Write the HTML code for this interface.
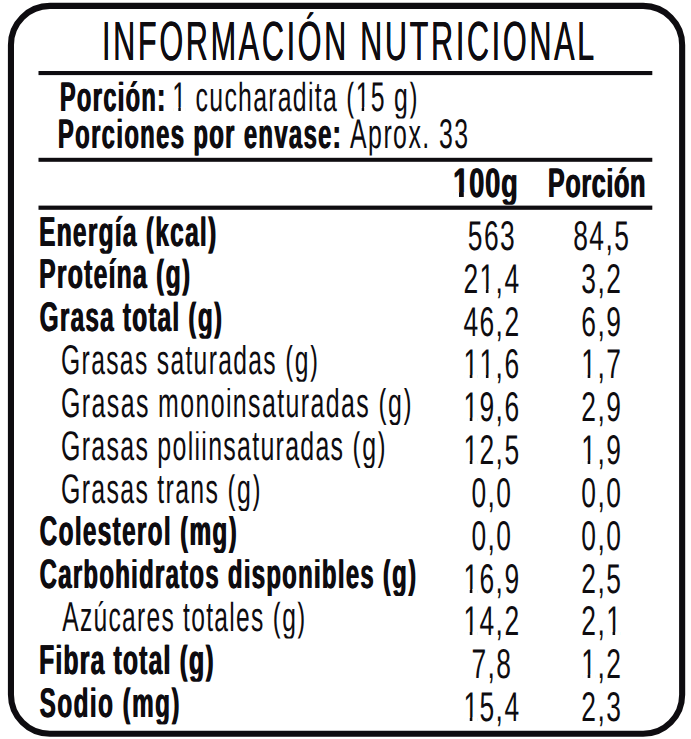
<!DOCTYPE html>
<html><head><meta charset="utf-8"><style>
html,body{margin:0;padding:0;background:#fff;width:691px;height:739px;overflow:hidden}
svg{display:block}
text{font-family:"Liberation Sans",sans-serif;fill:#0e0c10;text-rendering:geometricPrecision;font-kerning:none}
</style></head><body>
<svg width="691" height="739" viewBox="0 0 691 739">
<defs><clipPath id="c_p1b"><rect x="0" y="81.78" width="691" height="36.72"/><rect x="124.29" y="80.98" width="18.59" height="10"/></clipPath><clipPath id="c_p1r"><rect x="0" y="81.78" width="691" height="36.72"/></clipPath><clipPath id="c_p2b"><rect x="0" y="118.78" width="691" height="36.72"/></clipPath><clipPath id="c_p2r"><rect x="0" y="118.78" width="691" height="36.72"/></clipPath><clipPath id="c_h1"><rect x="0" y="167.99" width="691" height="36.51"/></clipPath><clipPath id="c_h2"><rect x="0" y="167.99" width="691" height="36.51"/><rect x="612.60" y="167.19" width="18.81" height="10"/></clipPath><clipPath id="c_r0"><rect x="0" y="216.61" width="691" height="36.79"/><rect x="113.46" y="215.81" width="10.88" height="10"/></clipPath><clipPath id="c_r1"><rect x="0" y="258.81" width="691" height="36.79"/><rect x="107.13" y="258.01" width="10.93" height="10"/></clipPath><clipPath id="c_r2"><rect x="0" y="301.71" width="691" height="36.79"/></clipPath><clipPath id="c_r3"><rect x="0" y="344.91" width="691" height="36.79"/></clipPath><clipPath id="c_r4"><rect x="0" y="388.11" width="691" height="36.79"/></clipPath><clipPath id="c_r5"><rect x="0" y="431.21" width="691" height="36.79"/></clipPath><clipPath id="c_r6"><rect x="0" y="474.31" width="691" height="36.79"/></clipPath><clipPath id="c_r7"><rect x="0" y="516.11" width="691" height="36.79"/></clipPath><clipPath id="c_r8"><rect x="0" y="559.21" width="691" height="36.79"/></clipPath><clipPath id="c_r9"><rect x="0" y="601.81" width="691" height="36.79"/><rect x="92.48" y="601.01" width="16.97" height="10"/></clipPath><clipPath id="c_r10"><rect x="0" y="644.81" width="691" height="36.79"/></clipPath><clipPath id="c_r11"><rect x="0" y="687.51" width="691" height="36.79"/></clipPath></defs>
<rect x="10.95" y="5.9" width="671.2" height="727.9" rx="39" ry="39" fill="none" stroke="#0e0c10" stroke-width="6.1"/>
<g fill="#0e0c10">
<rect x="38.5" y="71.0" width="613.8" height="4.1"/>
<rect x="38.5" y="157.8" width="613.8" height="4.0"/>
<rect x="38.5" y="205.6" width="613.8" height="4.2"/>
</g>
<g id="title"><text transform="translate(101.89 60.00) scale(0.5554 1)" font-weight="normal" font-size="55.20" text-anchor="start" letter-spacing="4.748">INFORMACIÓN NUTRICIONAL</text><text transform="translate(102.09 60.00) scale(0.5554 1)" font-weight="normal" font-size="55.20" text-anchor="start" letter-spacing="4.748">INFORMACIÓN NUTRICIONAL</text></g>
<g id="p1b" clip-path="url(#c_p1b)"><text transform="translate(59.45 110.70) scale(0.5680 1)" font-weight="bold" font-size="41.60" text-anchor="start" letter-spacing="2.377">Porción:</text><text transform="translate(60.25 110.70) scale(0.5680 1)" font-weight="bold" font-size="41.60" text-anchor="start" letter-spacing="2.377">Porción:</text></g>
<g id="p1r" clip-path="url(#c_p1r)"><text transform="translate(172.34 110.70) scale(0.5966 1)" font-weight="normal" font-size="41.60" text-anchor="start" letter-spacing="2.151">1 cucharadita (15 g)</text><g fill="#fff"><rect transform="translate(172.34 110.70) scale(0.5966 1)" x="1.66" y="-3.56" width="8.38" height="4.36"/><rect transform="translate(172.34 110.70) scale(0.5966 1)" x="14.14" y="-3.56" width="8.48" height="4.36"/><rect transform="translate(172.34 110.70) scale(0.5966 1)" x="309.05" y="-3.56" width="8.38" height="4.36"/><rect transform="translate(172.34 110.70) scale(0.5966 1)" x="321.53" y="-3.56" width="8.48" height="4.36"/></g></g>
<g id="p2b" clip-path="url(#c_p2b)"><text transform="translate(57.50 147.70) scale(0.5728 1)" font-weight="bold" font-size="41.60" text-anchor="start" letter-spacing="2.379">Porciones por envase:</text><text transform="translate(58.30 147.70) scale(0.5728 1)" font-weight="bold" font-size="41.60" text-anchor="start" letter-spacing="2.379">Porciones por envase:</text></g>
<g id="p2r" clip-path="url(#c_p2r)"><text transform="translate(350.07 147.70) scale(0.5980 1)" font-weight="normal" font-size="41.60" text-anchor="start" letter-spacing="2.418">Aprox. 33</text></g>
<g id="h1" clip-path="url(#c_h1)"><text transform="translate(452.87 196.70) scale(0.6609 1)" font-weight="bold" font-size="41.30" text-anchor="start" letter-spacing="1.145">100g</text><text transform="translate(453.67 196.70) scale(0.6609 1)" font-weight="bold" font-size="41.30" text-anchor="start" letter-spacing="1.145">100g</text><g fill="#fff"><rect transform="translate(452.87 196.70) scale(0.6609 1)" x="1.24" y="-4.66" width="8.02" height="5.46"/><rect transform="translate(452.87 196.70) scale(0.6609 1)" x="16.52" y="-4.66" width="7.88" height="5.46"/></g></g>
<g id="h2" clip-path="url(#c_h2)"><text transform="translate(547.48 196.70) scale(0.6101 1)" font-weight="bold" font-size="41.30" text-anchor="start" letter-spacing="1.022">Porción</text><text transform="translate(548.28 196.70) scale(0.6101 1)" font-weight="bold" font-size="41.30" text-anchor="start" letter-spacing="1.022">Porción</text></g>
<g id="r0" clip-path="url(#c_r0)"><text transform="translate(38.75 245.60) scale(0.5870 1)" font-weight="bold" font-size="41.70" text-anchor="start" letter-spacing="2.166">Energía (kcal)</text><text transform="translate(39.55 245.60) scale(0.5870 1)" font-weight="bold" font-size="41.70" text-anchor="start" letter-spacing="2.166">Energía (kcal)</text></g>
<g id="a0"><text transform="translate(491.95 250.00) scale(0.6350 1)" font-weight="normal" font-size="41.60" text-anchor="middle" letter-spacing="2.260">563</text></g>
<g id="b0"><text transform="translate(601.80 250.00) scale(0.6350 1)" font-weight="normal" font-size="41.60" text-anchor="middle" letter-spacing="2.260">84,5</text></g>
<g id="r1" clip-path="url(#c_r1)"><text transform="translate(38.75 287.80) scale(0.5924 1)" font-weight="bold" font-size="41.70" text-anchor="start" letter-spacing="2.112">Proteína (g)</text><text transform="translate(39.55 287.80) scale(0.5924 1)" font-weight="bold" font-size="41.70" text-anchor="start" letter-spacing="2.112">Proteína (g)</text></g>
<g id="a1"><text transform="translate(491.95 292.82) scale(0.6350 1)" font-weight="normal" font-size="41.60" text-anchor="middle" letter-spacing="2.260">21,4</text><g fill="#fff"><rect transform="translate(491.95 292.82) scale(0.6350 1)" x="-17.86" y="-3.56" width="8.32" height="4.36"/><rect transform="translate(491.95 292.82) scale(0.6350 1)" x="-5.47" y="-3.56" width="8.38" height="4.36"/></g></g>
<g id="b1"><text transform="translate(601.80 292.82) scale(0.6350 1)" font-weight="normal" font-size="41.60" text-anchor="middle" letter-spacing="2.260">3,2</text></g>
<g id="r2" clip-path="url(#c_r2)"><text transform="translate(39.31 330.70) scale(0.5838 1)" font-weight="bold" font-size="41.70" text-anchor="start" letter-spacing="2.116">Grasa total (g)</text><text transform="translate(40.11 330.70) scale(0.5838 1)" font-weight="bold" font-size="41.70" text-anchor="start" letter-spacing="2.116">Grasa total (g)</text></g>
<g id="a2"><text transform="translate(491.95 335.64) scale(0.6350 1)" font-weight="normal" font-size="41.60" text-anchor="middle" letter-spacing="2.260">46,2</text></g>
<g id="b2"><text transform="translate(601.80 335.64) scale(0.6350 1)" font-weight="normal" font-size="41.60" text-anchor="middle" letter-spacing="2.260">6,9</text></g>
<g id="r3" clip-path="url(#c_r3)"><text transform="translate(61.09 373.90) scale(0.5906 1)" font-weight="normal" font-size="41.70" text-anchor="start" letter-spacing="2.284">Grasas saturadas (g)</text></g>
<g id="a3"><text transform="translate(491.95 378.46) scale(0.6350 1)" font-weight="normal" font-size="41.60" text-anchor="middle" letter-spacing="2.260">11,6</text><g fill="#fff"><rect transform="translate(491.95 378.46) scale(0.6350 1)" x="-43.25" y="-3.56" width="8.32" height="4.36"/><rect transform="translate(491.95 378.46) scale(0.6350 1)" x="-30.86" y="-3.56" width="8.38" height="4.36"/><rect transform="translate(491.95 378.46) scale(0.6350 1)" x="-17.86" y="-3.56" width="8.32" height="4.36"/><rect transform="translate(491.95 378.46) scale(0.6350 1)" x="-5.47" y="-3.56" width="8.38" height="4.36"/></g></g>
<g id="b3"><text transform="translate(601.80 378.46) scale(0.6350 1)" font-weight="normal" font-size="41.60" text-anchor="middle" letter-spacing="2.260">1,7</text><g fill="#fff"><rect transform="translate(601.80 378.46) scale(0.6350 1)" x="-30.55" y="-3.56" width="8.32" height="4.36"/><rect transform="translate(601.80 378.46) scale(0.6350 1)" x="-18.17" y="-3.56" width="8.38" height="4.36"/></g></g>
<g id="r4" clip-path="url(#c_r4)"><text transform="translate(61.07 417.10) scale(0.5973 1)" font-weight="normal" font-size="41.70" text-anchor="start" letter-spacing="2.344">Grasas monoinsaturadas (g)</text></g>
<g id="a4"><text transform="translate(491.95 421.28) scale(0.6350 1)" font-weight="normal" font-size="41.60" text-anchor="middle" letter-spacing="2.260">19,6</text><g fill="#fff"><rect transform="translate(491.95 421.28) scale(0.6350 1)" x="-43.25" y="-3.56" width="8.32" height="4.36"/><rect transform="translate(491.95 421.28) scale(0.6350 1)" x="-30.86" y="-3.56" width="8.38" height="4.36"/></g></g>
<g id="b4"><text transform="translate(601.80 421.28) scale(0.6350 1)" font-weight="normal" font-size="41.60" text-anchor="middle" letter-spacing="2.260">2,9</text></g>
<g id="r5" clip-path="url(#c_r5)"><text transform="translate(61.06 460.20) scale(0.5979 1)" font-weight="normal" font-size="41.70" text-anchor="start" letter-spacing="2.158">Grasas poliinsaturadas (g)</text></g>
<g id="a5"><text transform="translate(491.95 464.10) scale(0.6350 1)" font-weight="normal" font-size="41.60" text-anchor="middle" letter-spacing="2.260">12,5</text><g fill="#fff"><rect transform="translate(491.95 464.10) scale(0.6350 1)" x="-43.25" y="-3.56" width="8.32" height="4.36"/><rect transform="translate(491.95 464.10) scale(0.6350 1)" x="-30.86" y="-3.56" width="8.38" height="4.36"/></g></g>
<g id="b5"><text transform="translate(601.80 464.10) scale(0.6350 1)" font-weight="normal" font-size="41.60" text-anchor="middle" letter-spacing="2.260">1,9</text><g fill="#fff"><rect transform="translate(601.80 464.10) scale(0.6350 1)" x="-30.55" y="-3.56" width="8.32" height="4.36"/><rect transform="translate(601.80 464.10) scale(0.6350 1)" x="-18.17" y="-3.56" width="8.38" height="4.36"/></g></g>
<g id="r6" clip-path="url(#c_r6)"><text transform="translate(61.07 503.30) scale(0.5970 1)" font-weight="normal" font-size="41.70" text-anchor="start" letter-spacing="2.193">Grasas trans (g)</text></g>
<g id="a6"><text transform="translate(491.95 506.92) scale(0.6350 1)" font-weight="normal" font-size="41.60" text-anchor="middle" letter-spacing="2.260">0,0</text></g>
<g id="b6"><text transform="translate(601.80 506.92) scale(0.6350 1)" font-weight="normal" font-size="41.60" text-anchor="middle" letter-spacing="2.260">0,0</text></g>
<g id="r7" clip-path="url(#c_r7)"><text transform="translate(39.32 545.10) scale(0.5828 1)" font-weight="bold" font-size="41.70" text-anchor="start" letter-spacing="2.308">Colesterol (mg)</text><text transform="translate(40.12 545.10) scale(0.5828 1)" font-weight="bold" font-size="41.70" text-anchor="start" letter-spacing="2.308">Colesterol (mg)</text></g>
<g id="a7"><text transform="translate(491.95 549.74) scale(0.6350 1)" font-weight="normal" font-size="41.60" text-anchor="middle" letter-spacing="2.260">0,0</text></g>
<g id="b7"><text transform="translate(601.80 549.74) scale(0.6350 1)" font-weight="normal" font-size="41.60" text-anchor="middle" letter-spacing="2.260">0,0</text></g>
<g id="r8" clip-path="url(#c_r8)"><text transform="translate(39.29 588.20) scale(0.5729 1)" font-weight="bold" font-size="41.70" text-anchor="start" letter-spacing="2.287">Carbohidratos disponibles (g)</text><text transform="translate(40.09 588.20) scale(0.5729 1)" font-weight="bold" font-size="41.70" text-anchor="start" letter-spacing="2.287">Carbohidratos disponibles (g)</text></g>
<g id="a8"><text transform="translate(491.95 592.56) scale(0.6350 1)" font-weight="normal" font-size="41.60" text-anchor="middle" letter-spacing="2.260">16,9</text><g fill="#fff"><rect transform="translate(491.95 592.56) scale(0.6350 1)" x="-43.25" y="-3.56" width="8.32" height="4.36"/><rect transform="translate(491.95 592.56) scale(0.6350 1)" x="-30.86" y="-3.56" width="8.38" height="4.36"/></g></g>
<g id="b8"><text transform="translate(601.80 592.56) scale(0.6350 1)" font-weight="normal" font-size="41.60" text-anchor="middle" letter-spacing="2.260">2,5</text></g>
<g id="r9" clip-path="url(#c_r9)"><text transform="translate(62.21 630.80) scale(0.5903 1)" font-weight="normal" font-size="41.70" text-anchor="start" letter-spacing="2.163">Azúcares totales (g)</text></g>
<g id="a9"><text transform="translate(491.95 635.38) scale(0.6350 1)" font-weight="normal" font-size="41.60" text-anchor="middle" letter-spacing="2.260">14,2</text><g fill="#fff"><rect transform="translate(491.95 635.38) scale(0.6350 1)" x="-43.25" y="-3.56" width="8.32" height="4.36"/><rect transform="translate(491.95 635.38) scale(0.6350 1)" x="-30.86" y="-3.56" width="8.38" height="4.36"/></g></g>
<g id="b9"><text transform="translate(601.80 635.38) scale(0.6350 1)" font-weight="normal" font-size="41.60" text-anchor="middle" letter-spacing="2.260">2,1</text><g fill="#fff"><rect transform="translate(601.80 635.38) scale(0.6350 1)" x="8.65" y="-3.56" width="8.32" height="4.36"/><rect transform="translate(601.80 635.38) scale(0.6350 1)" x="21.04" y="-3.56" width="8.38" height="4.36"/></g></g>
<g id="r10" clip-path="url(#c_r10)"><text transform="translate(38.73 673.80) scale(0.5936 1)" font-weight="bold" font-size="41.70" text-anchor="start" letter-spacing="1.964">Fibra total (g)</text><text transform="translate(39.53 673.80) scale(0.5936 1)" font-weight="bold" font-size="41.70" text-anchor="start" letter-spacing="1.964">Fibra total (g)</text></g>
<g id="a10"><text transform="translate(491.95 678.20) scale(0.6350 1)" font-weight="normal" font-size="41.60" text-anchor="middle" letter-spacing="2.260">7,8</text></g>
<g id="b10"><text transform="translate(601.80 678.20) scale(0.6350 1)" font-weight="normal" font-size="41.60" text-anchor="middle" letter-spacing="2.260">1,2</text><g fill="#fff"><rect transform="translate(601.80 678.20) scale(0.6350 1)" x="-30.55" y="-3.56" width="8.32" height="4.36"/><rect transform="translate(601.80 678.20) scale(0.6350 1)" x="-18.17" y="-3.56" width="8.38" height="4.36"/></g></g>
<g id="r11" clip-path="url(#c_r11)"><text transform="translate(39.27 716.50) scale(0.5812 1)" font-weight="bold" font-size="41.70" text-anchor="start" letter-spacing="2.552">Sodio (mg)</text><text transform="translate(40.07 716.50) scale(0.5812 1)" font-weight="bold" font-size="41.70" text-anchor="start" letter-spacing="2.552">Sodio (mg)</text></g>
<g id="a11"><text transform="translate(491.95 721.02) scale(0.6350 1)" font-weight="normal" font-size="41.60" text-anchor="middle" letter-spacing="2.260">15,4</text><g fill="#fff"><rect transform="translate(491.95 721.02) scale(0.6350 1)" x="-43.25" y="-3.56" width="8.32" height="4.36"/><rect transform="translate(491.95 721.02) scale(0.6350 1)" x="-30.86" y="-3.56" width="8.38" height="4.36"/></g></g>
<g id="b11"><text transform="translate(601.80 721.02) scale(0.6350 1)" font-weight="normal" font-size="41.60" text-anchor="middle" letter-spacing="2.260">2,3</text></g>
</svg>
</body></html>
